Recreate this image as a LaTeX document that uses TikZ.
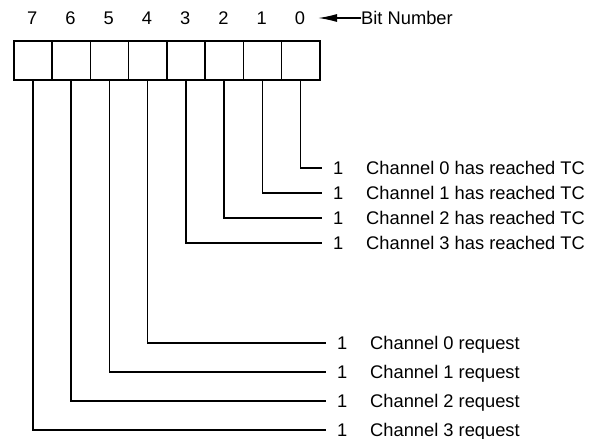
\documentclass[tikz,border=0pt]{standalone}
\usepackage{fontspec}
\setmainfont{Liberation Sans}
\usetikzlibrary{arrows.meta}
\begin{document}
\begin{tikzpicture}[x=1pt,y=-1pt,
  every node/.style={font=\fontsize{18.3}{20}\selectfont},
  cell/.style={draw,line width=1.5pt,minimum width=38.25pt,minimum height=39pt,inner sep=0pt,anchor=north west},
  wire/.style={line width=1.4pt},
  one/.style={anchor=base west,inner xsep=11pt,inner ysep=0pt},
  lab/.style={anchor=base west,inner sep=0pt},
  digit/.style={anchor=base,inner sep=0pt}]
\useasboundingbox (0,0) rectangle (611,439);
% register cells
\foreach \i in {0,...,7}{
  \node[cell] (c\i) at ({13+38.25*(7-\i)},40) {};
  \node[digit] (d\i) at ({13+38.25*(7-\i)+19.125},24.5) {\i};
}
% bit number arrow
\node[lab] (bn) at (361,24.5) {Bit Number};
\coordinate (tip) at (318,18);
\draw[wire,-{Latex[length=19pt,width=8pt]}] (bn.west |- tip) -- (tip);
% TC rows
\foreach \i/\y in {0/168,1/193,2/218,3/243}{
  \node[one] (o\i) at (322,\y+6.5) {1};
  \node[lab] (t\i) at (366,\y+6.5) {Channel \i\ has reached TC};
  \draw[wire] (c\i.south) |- (322,\y);
}
% request rows
\foreach \i/\j/\y in {4/0/343,5/1/372,6/2/401,7/3/430}{
  \node[one] (o\i) at (326,\y+6.5) {1};
  \node[lab] (t\i) at (370,\y+6.5) {Channel \j\ request};
  \draw[wire] (c\i.south) |- (326,\y);
}
\end{tikzpicture}
\end{document}
